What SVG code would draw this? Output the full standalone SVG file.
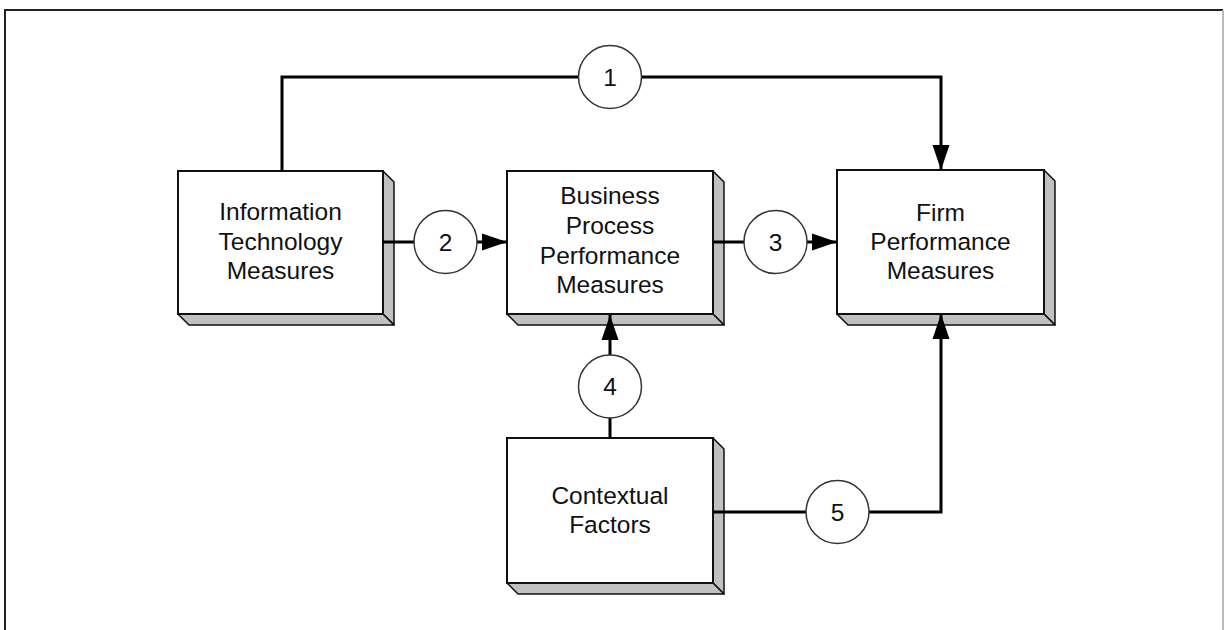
<svg xmlns="http://www.w3.org/2000/svg" width="1225" height="630" viewBox="0 0 1225 630">
  <style>
    .face { fill: #ffffff; stroke: #111111; stroke-width: 2; }
    .side { fill: #c0c0c0; stroke: #111111; stroke-width: 1.5; stroke-linejoin: round; }
    .label { font-family: "Liberation Sans", Arial, sans-serif; font-size: 24.5px; fill: #111111; text-anchor: middle; }
    .wire { fill: none; stroke: #000000; stroke-width: 3; }
    .badge { fill: #ffffff; stroke: #333333; stroke-width: 1.5; }
  </style>
  <defs>
    <marker id="arrow" markerUnits="userSpaceOnUse" markerWidth="26" markerHeight="18" refX="25" refY="9" orient="auto">
      <path d="M0,0.5 L25,9 L0,17.5 Z" fill="#000000"/>
    </marker>
  </defs>

  <rect width="1225" height="630" fill="#ffffff"/>

  <!-- page frame -->
  <path d="M5,640 L5,10 L1223,10" fill="none" stroke="#222222" stroke-width="2"/>
  <path d="M1223,10 L1223,640" fill="none" stroke="#bbbbbb" stroke-width="2"/>

  <!-- Information Technology Measures -->
  <g id="node-it">
    <path class="side" d="M383,171 L394,182 L394,325 L383,314 Z"/>
    <path class="side" d="M178,314 L189,325 L394,325 L383,314 Z"/>
    <rect class="face" x="178" y="171" width="205" height="143"/>
    <text class="label" x="280.5" y="220">Information</text>
    <text class="label" x="280.5" y="249.5">Technology</text>
    <text class="label" x="280.5" y="279">Measures</text>
  </g>

  <!-- Business Process Performance Measures -->
  <g id="node-bp">
    <path class="side" d="M713,171 L724,182 L724,325 L713,314 Z"/>
    <path class="side" d="M507,314 L518,325 L724,325 L713,314 Z"/>
    <rect class="face" x="507" y="171" width="206" height="143"/>
    <text class="label" x="610" y="204">Business</text>
    <text class="label" x="610" y="234">Process</text>
    <text class="label" x="610" y="264">Performance</text>
    <text class="label" x="610" y="293">Measures</text>
  </g>

  <!-- Firm Performance Measures -->
  <g id="node-firm">
    <path class="side" d="M1044,170 L1055,181 L1055,325 L1044,314 Z"/>
    <path class="side" d="M837,314 L848,325 L1055,325 L1044,314 Z"/>
    <rect class="face" x="837" y="170" width="207" height="144"/>
    <text class="label" x="940.5" y="221">Firm</text>
    <text class="label" x="940.5" y="250">Performance</text>
    <text class="label" x="940.5" y="279">Measures</text>
  </g>

  <!-- Contextual Factors -->
  <g id="node-context">
    <path class="side" d="M713,438 L724,449 L724,594 L713,583 Z"/>
    <path class="side" d="M507,583 L518,594 L724,594 L713,583 Z"/>
    <rect class="face" x="507" y="438" width="206" height="145"/>
    <text class="label" x="610" y="504">Contextual</text>
    <text class="label" x="610" y="533">Factors</text>
  </g>

  <!-- connectors -->
  <g id="connectors">
    <path class="wire" d="M282,171 L282,77 L941,77 L941,170" marker-end="url(#arrow)"/>
    <path class="wire" d="M383,242 L507,242" marker-end="url(#arrow)"/>
    <path class="wire" d="M713,242 L837,242" marker-end="url(#arrow)"/>
    <path class="wire" d="M610,438 L610,315" marker-end="url(#arrow)"/>
    <path class="wire" d="M713,512 L941,512 L941,314" marker-end="url(#arrow)"/>
  </g>

  <!-- numbered path badges -->
  <g id="badge-1">
    <circle class="badge" cx="610" cy="77" r="31.5"/>
    <text class="label" x="610" y="86">1</text>
  </g>
  <g id="badge-2">
    <circle class="badge" cx="445.5" cy="242" r="31.5"/>
    <text class="label" x="445.5" y="251">2</text>
  </g>
  <g id="badge-3">
    <circle class="badge" cx="775.5" cy="242" r="31.5"/>
    <text class="label" x="775.5" y="251">3</text>
  </g>
  <g id="badge-4">
    <circle class="badge" cx="610" cy="386.5" r="31.5"/>
    <text class="label" x="610" y="395">4</text>
  </g>
  <g id="badge-5">
    <circle class="badge" cx="837.5" cy="512" r="31.5"/>
    <text class="label" x="837.5" y="521">5</text>
  </g>
</svg>
